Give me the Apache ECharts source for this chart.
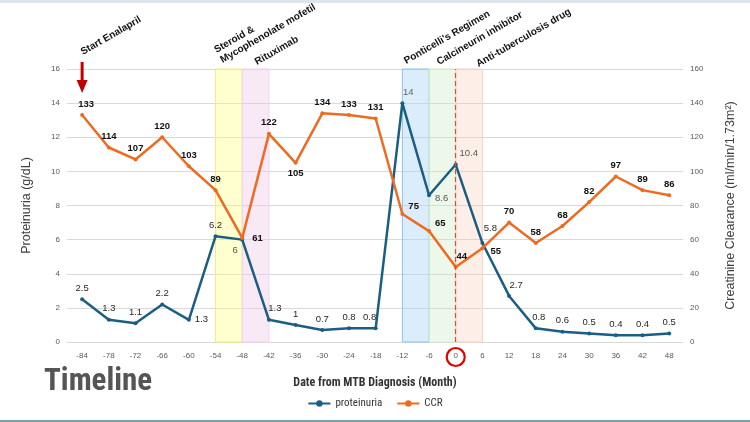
<!DOCTYPE html>
<html>
<head>
<meta charset="utf-8">
<script src="https://cdn.jsdelivr.net/npm/echarts@6/dist/echarts.min.js"></script>
<style>
  html, body { margin: 0; padding: 0; background: #fff; }
  #chart { width: 750px; height: 422px; }
</style>
</head>
<body>
<div id="chart"></div>
<script>
// months relative to MTB diagnosis
const months = [-84, -78, -72, -66, -60, -54, -48, -42, -36, -30, -24, -18, -12, -6, 0, 6, 12, 18, 24, 30, 36, 42, 48];
const proteinuria = [2.5, 1.3, 1.1, 2.2, 1.3, 6.2, 6, 1.3, 1, 0.7, 0.8, 0.8, 14, 8.6, 10.4, 5.8, 2.7, 0.8, 0.6, 0.5, 0.4, 0.4, 0.5];
const ccr = [133, 114, 107, 120, 103, 89, 61, 122, 105, 134, 133, 131, 75, 65, 44, 55, 70, 58, 68, 82, 97, 89, 86];

// treatment windows [from, to] in months
const bands = [
  { from: -54, to: -48, fill: "rgba(255,255,120,0.35)", border: "#f3ee7a" },
  { from: -48, to: -42, fill: "rgba(240,200,235,0.40)", border: "#efd3ec" },
  { from: -12, to: -6, fill: "rgba(170,210,245,0.42)", border: "#8ec0e6" },
  { from: -6, to: 0, fill: "rgba(205,235,195,0.35)", border: "#d5ecd0" },
  { from: 0, to: 6, fill: "rgba(250,205,185,0.35)", border: "#f6d4c4" }
];
const annotations = [
  { at: -84, dx: 2, dy: 57, lines: ["Start Enalapril"] },
  { at: -54, dx: 2, dy: 55, lines: ["Steroid &", "Mycophenolate mofetil"] },
  { at: -48, dx: 16, dy: 67, lines: ["Rituximab"] },
  { at: -12, dx: 5, dy: 66, lines: ["Ponticelli's Regimen"] },
  { at: -6, dx: 11, dy: 67, lines: ["Calcineurin inhibitor"] },
  { at: 0, dx: 24, dy: 69, lines: ["Anti-tuberculosis drug"] }
];

const BLUE = "#1b5e84";
const ORANGE = "#ef6a21";
const FONT = "'Liberation Sans', Roboto, sans-serif";
const NARROW = "'Liberation Sans Narrow', 'Roboto Condensed', Roboto, sans-serif";

// per-point label tweaks
const protLabel = {
  4: { position: "right" },
  6: { position: "bottom", offset: [-7, 0], color: "#555" },
  7: { offset: [6, 0] },
  11: { offset: [-6, 0] },
  12: { offset: [6, 0], color: "#666" },
  13: { position: "right", offset: [0, 3], color: "#555" },
  14: { offset: [13, 0], color: "#555" },
  15: { offset: [8, -4] },
  16: { offset: [7, 0] },
  17: { offset: [3, 0] }
};
const ccrLabel = {
  0: { offset: [4, 0] },
  6: { position: "right", offset: [4, 0] },
  8: { position: "bottom" },
  12: { position: "right", offset: [0, -8] },
  13: { position: "right", offset: [0, -8] },
  14: { offset: [6, 0] },
  15: { position: "right", offset: [2, 3] }
};

function points(values, tweaks) {
  return values.map((v, i) => ({ value: [months[i], v], label: tweaks[i] || {} }));
}

const chart = echarts.init(document.getElementById("chart"));

const option = {
  animation: false,
  backgroundColor: "#fff",
  textStyle: { fontFamily: FONT },
  grid: { left: 67, right: 67, top: 69, bottom: 80 },
  legend: {
    bottom: 8,
    left: "center",
    itemWidth: 22,
    itemHeight: 8,
    itemGap: 14,
    textStyle: { fontFamily: NARROW, fontSize: 11, color: "#333" },
    data: ["proteinuria", "CCR"]
  },
  xAxis: {
    type: "value",
    min: -87.4,
    max: 51.1,
    name: "Date from MTB Diagnosis (Month)",
    nameLocation: "middle",
    nameGap: 35,
    nameTextStyle: { fontFamily: NARROW, fontSize: 12, color: "#333", fontWeight: "bold" },
    axisLine: { show: false },
    axisTick: { show: false },
    splitLine: { show: false },
    axisLabel: { customValues: months, color: "#595959", fontSize: 8, margin: 10 }
  },
  yAxis: [
    {
      type: "value", min: 0, max: 16, interval: 2,
      name: "Proteinuria (g/dL)", nameLocation: "middle", nameGap: 34, nameRotate: 90,
      nameTextStyle: { fontSize: 12.5, color: "#404040" },
      axisLine: { show: false }, axisTick: { show: false },
      axisLabel: { color: "#595959", fontSize: 8, margin: 7 },
      splitLine: { lineStyle: { color: "#d9d9d9" } }
    },
    {
      type: "value", min: 0, max: 160, interval: 20,
      name: "Creatinine Clearance (ml/min/1.73m²)", nameLocation: "middle", nameGap: 41, nameRotate: 90,
      nameTextStyle: { fontSize: 12.5, color: "#404040" },
      axisLine: { show: false }, axisTick: { show: false },
      axisLabel: { color: "#595959", fontSize: 8, margin: 7 },
      splitLine: { show: false }
    }
  ],
  series: [
    {
      name: "proteinuria",
      type: "line",
      yAxisIndex: 0,
      z: 2,
      data: points(proteinuria, protLabel),
      color: BLUE,
      lineStyle: { width: 2.5, color: BLUE },
      symbol: "circle",
      symbolSize: 4,
      label: { show: true, position: "top", fontSize: 9.5, color: "#262626", distance: 4 }
    },
    {
      name: "CCR",
      type: "line",
      yAxisIndex: 1,
      z: 2,
      data: points(ccr, ccrLabel),
      color: ORANGE,
      lineStyle: { width: 2.5, color: ORANGE },
      symbol: "circle",
      symbolSize: 4,
      label: { show: true, position: "top", fontSize: 9.5, fontWeight: "bold", color: "#111", distance: 4 }
    },
    {
      name: "bands",
      type: "line",
      yAxisIndex: 0,
      z: 4,
      data: [],
      markArea: {
        silent: true,
        label: { show: false },
        data: bands.map((b) => [
          { xAxis: b.from, yAxis: 16, itemStyle: { color: b.fill, borderColor: b.border, borderWidth: 1 } },
          { xAxis: b.to, yAxis: 0 }
        ])
      },
      markLine: {
        silent: true,
        symbol: "none",
        label: { show: false },
        lineStyle: { color: "#e0502c", type: [5, 3], width: 1.2 },
        data: [[{ coord: [0, 0] }, { coord: [0, 16] }]]
      }
    }
  ]
};

chart.setOption(option);

// overlay graphics placed from axis coordinates
function px(m, v) { return chart.convertToPixel({ xAxisIndex: 0, yAxisIndex: 0 }, [m, v]); }
const graphics = [];
annotations.forEach((a) => {
  const [x] = px(a.at, 0);
  a.lines.forEach((t, k) => {
    graphics.push({
      type: "text",
      x: x + a.dx + 6 * k,
      y: a.dy + 10 * k,
      rotation: Math.PI / 6,
      style: { text: t, fill: "#111", font: "bold 10px " + FONT, textAlign: "left", textVerticalAlign: "bottom" }
    });
  });
});
const [ax] = px(-84, 0);
graphics.push(
  { type: "rect", shape: { x: ax - 1.5, y: 62, width: 3, height: 20 }, style: { fill: "#c00000" } },
  { type: "polygon", shape: { points: [[ax - 5.5, 80], [ax + 5.5, 80], [ax, 93]] }, style: { fill: "#c00000" } }
);
const [zx, zy] = px(0, 0);
graphics.push(
  { type: "circle", shape: { cx: zx, cy: zy + 15, r: 9 }, style: { fill: "none", stroke: "#e00000", lineWidth: 2.2 } },
  { type: "text", x: 44, y: 367, style: { text: "Timeline", fill: "#555", font: "bold 31px " + NARROW } },
  { type: "rect", shape: { x: 0, y: 0, width: 750, height: 3 }, style: { fill: "#dde6ec" } },
  { type: "rect", shape: { x: 0, y: 420, width: 750, height: 2 }, style: { fill: "#7e9ea9" } }
);
chart.setOption({ graphic: graphics });
</script>
</body>
</html>
